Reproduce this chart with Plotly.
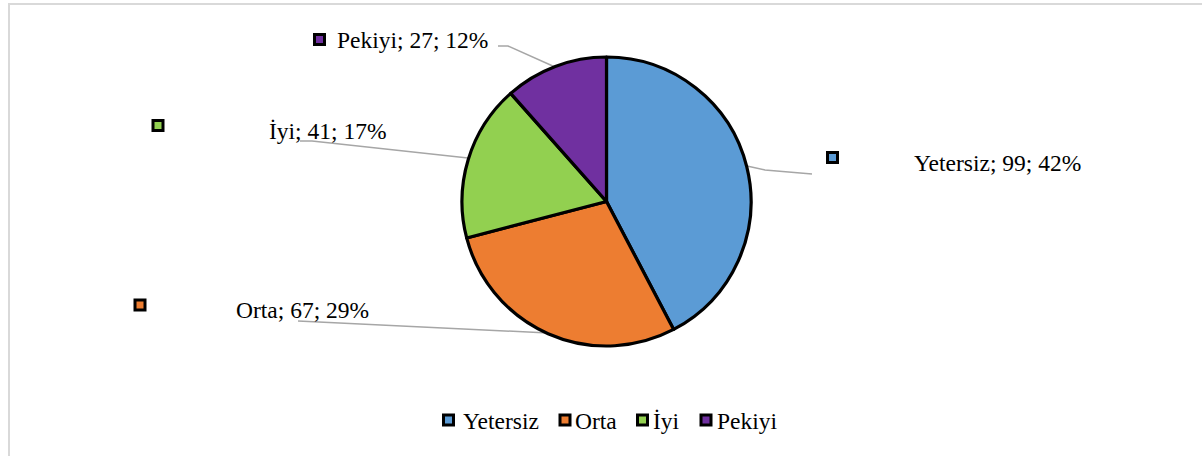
import plotly.graph_objects as go

# Data
categories = ["Yetersiz", "Orta", "İyi", "Pekiyi"]
values = [99, 67, 41, 27]
percents = [42, 29, 17, 12]
colors = ["#5B9BD5", "#ED7D31", "#92D050", "#7030A0"]

W, H = 1202, 456
OFF = 0  # body margin removed via post_script


def px(x):
    return (x - OFF) / W


def py(y):
    return 1 - (y - OFF) / H


FONT = "Liberation Serif, Times New Roman, serif"
FS = 23.5

fig = go.Figure()
fig.add_trace(go.Pie(
    labels=categories,
    values=values,
    marker=dict(colors=colors, line=dict(color="black", width=3.2)),
    sort=False,
    direction="clockwise",
    rotation=0,
    textinfo="none",
    hoverinfo="label+value+percent",
    domain=dict(x=[px(462), px(751)], y=[py(347), py(56)]),
    showlegend=False,
))

# Label layout: (square centre, text left x, text centre y, leader polyline)
label_layout = {
    "Pekiyi": dict(sq=(319.5, 39.5), tx=335, ty=40,
                   line=[(498, 46), (508, 46), (555, 67)]),
    "İyi": dict(sq=(158, 125.5), tx=267, ty=131,
                line=[(300, 141), (312, 141), (468, 158)]),
    "Yetersiz": dict(sq=(832.5, 157.5), tx=912, ty=163,
                     line=[(747, 166), (765, 170), (812, 174)]),
    "Orta": dict(sq=(140, 305), tx=234, ty=310,
                 line=[(298, 321), (548, 333)]),
}
# Legend layout: (square centre x, text left x)
legend_layout = {
    "Yetersiz": (448.5, 461),
    "Orta": (565, 573),
    "İyi": (642.5, 651),
    "Pekiyi": (706, 715),
}
LEG_Y = 420

shapes = []
annotations = []


def square(cx, cy, col):
    half = 5
    return dict(
        type="rect", xref="paper", yref="paper",
        x0=px(cx - half), x1=px(cx + half), y0=py(cy + half), y1=py(cy - half),
        line=dict(color="black", width=3), fillcolor=col, layer="above",
    )


for cat, val, pct, col in zip(categories, values, percents, colors):
    lay = label_layout[cat]
    sx, sy = lay["sq"]
    shapes.append(square(sx, sy, col))
    pts = lay["line"]
    path = "M " + " L ".join(f"{px(x)},{py(y)}" for x, y in pts)
    shapes.append(dict(
        type="path", xref="paper", yref="paper", path=path,
        line=dict(color="#A6A6A6", width=1.5), layer="below",
    ))
    annotations.append(dict(
        xref="paper", yref="paper", x=px(lay["tx"]), y=py(lay["ty"]),
        xanchor="left", yanchor="middle", showarrow=False,
        text=f"{cat}; {val}; {pct}%",
        font=dict(family=FONT, size=FS, color="black"),
    ))
    # legend entry
    lx, ltx = legend_layout[cat]
    shapes.append(square(lx, LEG_Y, col))
    annotations.append(dict(
        xref="paper", yref="paper", x=px(ltx), y=py(LEG_Y + 1),
        xanchor="left", yanchor="middle", showarrow=False,
        text=cat,
        font=dict(family=FONT, size=FS, color="black"),
    ))

# Chart border
shapes.append(dict(
    type="rect", xref="paper", yref="paper",
    x0=px(9), x1=px(1240), y0=py(490), y1=py(4),
    line=dict(color="#D9D9D9", width=2), fillcolor="rgba(0,0,0,0)", layer="below",
))

fig.update_layout(
    width=W, height=H,
    margin=dict(l=0, r=0, t=0, b=0),
    paper_bgcolor="white",
    plot_bgcolor="white",
    font=dict(family=FONT, size=FS, color="black"),
    shapes=shapes,
    annotations=annotations,
    showlegend=False,
)

fig.write_html(
    "out.html",
    config={"displayModeBar": False},
    post_script="document.body.style.margin='0';document.body.style.overflow='hidden';",
)
